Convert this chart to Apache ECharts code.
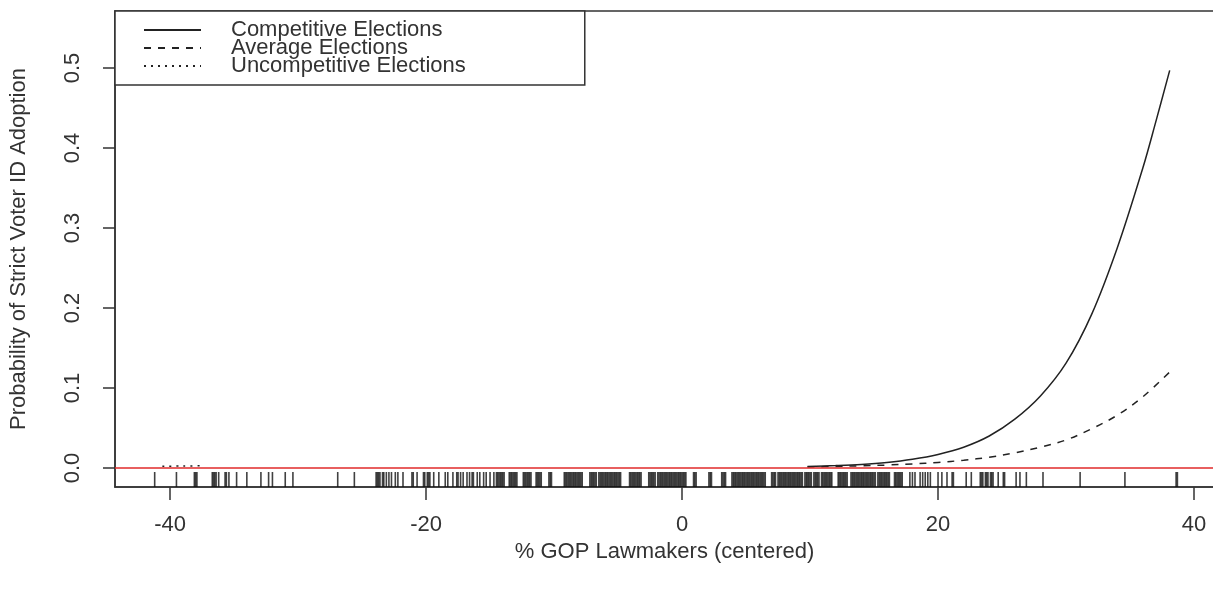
<!DOCTYPE html>
<html>
<head>
<meta charset="utf-8">
<script src="https://cdn.jsdelivr.net/npm/echarts@6/dist/echarts.min.js"></script>
<style>
html,body{margin:0;padding:0;background:#fff;}
#chart{width:1213px;height:591px;}
</style>
</head>
<body>
<div id="chart"></div>
<script>
// ---- data ----
const seriesNames = ['Competitive Elections', 'Average Elections', 'Uncompetitive Elections'];

const xCompetitive = [9.8, 12, 14, 16, 18, 20, 22, 24, 26, 28, 30, 32, 34, 36, 37, 38.1];
const yCompetitive = [0.0018, 0.003, 0.0045, 0.007, 0.011, 0.017, 0.026, 0.040, 0.061, 0.090, 0.131, 0.192, 0.275, 0.375, 0.432, 0.497];

const xAverage = [9.8, 12, 14, 16, 18, 20, 22, 24, 26, 28, 30, 32, 34, 36, 38.1];
const yAverage = [0.0014, 0.002, 0.0027, 0.0037, 0.005, 0.007, 0.0097, 0.0135, 0.019, 0.026, 0.035, 0.049, 0.066, 0.089, 0.12];

const xUncompetitive = [-40.6, -39, -37.4];
const yUncompetitive = [0.0022, 0.0025, 0.0028];

// rug (observed % GOP lawmakers, centered)
const rugX = [
  -41.2, -39.5, -38.1, -38.0, -37.9, -36.7, -36.6, -36.5, -36.4, -36.2, -35.7, -35.6, -35.4,
  -34.8, -34.0, -32.9, -32.3, -32.0, -31.0, -30.4, -26.9, -25.6,
  -23.9, -23.8, -23.7, -23.6, -23.4, -23.3, -23.1, -22.9, -22.7, -22.4, -22.2, -21.8, -21.1, -21.0,
  -20.7, -20.2, -20.1, -19.9, -19.8, -19.7, -19.4, -19.0, -18.5, -18.3, -17.9, -17.6, -17.5,
  -17.3, -17.1, -16.8, -16.6, -16.4, -16.3, -16.0, -15.8, -15.5, -15.3, -15.0, -14.7, -14.5,
  -14.4, -14.3, -14.2, -14.1, -14.0, -13.9,
  -13.5, -13.4, -13.3, -13.2, -13.1, -13.0, -12.9,
  -12.4, -12.3, -12.2, -12.1, -12.0, -11.9, -11.8,
  -11.4, -11.3, -11.2, -11.1, -11.0,
  -10.4, -10.3, -10.2,
  -9.2, -9.1, -9.0, -8.9, -8.8, -8.7, -8.6, -8.5, -8.4, -8.3, -8.2, -8.1, -8.0, -7.9, -7.8,
  -7.2, -7.1, -7.0, -6.9, -6.8, -6.7,
  -6.5, -6.4, -6.3, -6.2, -6.1, -6.0, -5.9, -5.8, -5.7, -5.6, -5.5, -5.4, -5.3, -5.2, -5.1,
  -5.0, -4.9, -4.8,
  -4.1, -4.0, -3.9, -3.8, -3.7, -3.6, -3.5, -3.4, -3.3, -3.2,
  -2.6, -2.5, -2.4, -2.3, -2.2, -2.1,
  -1.9, -1.8, -1.7, -1.6, -1.5, -1.4, -1.3, -1.2, -1.1, -1.0, -0.9, -0.8, -0.7, -0.6, -0.5,
  -0.4, -0.3, -0.2, -0.1, 0.0, 0.1, 0.2, 0.3,
  0.9, 1.0, 1.1,
  2.1, 2.2, 2.3,
  3.1, 3.2, 3.3, 3.4,
  3.9, 4.0, 4.1, 4.2, 4.3, 4.4, 4.5, 4.6, 4.7, 4.8, 4.9, 5.0, 5.1, 5.2, 5.3, 5.4, 5.5, 5.6,
  5.7, 5.8, 5.9, 6.0, 6.1, 6.2, 6.3, 6.4, 6.5,
  7.0, 7.1, 7.2, 7.3,
  7.5, 7.6, 7.7, 7.8, 7.9, 8.0, 8.1, 8.2, 8.3, 8.4, 8.5, 8.6, 8.7, 8.8, 8.9, 9.0, 9.1, 9.2,
  9.3, 9.4,
  9.6, 9.7, 9.8, 9.9, 10.0, 10.1,
  10.3, 10.4, 10.5, 10.6, 10.7,
  10.9, 11.0, 11.1, 11.2, 11.3, 11.4, 11.5, 11.6, 11.7,
  12.2, 12.3, 12.4, 12.5, 12.6, 12.7, 12.8, 12.9,
  13.2, 13.3, 13.4, 13.5, 13.6, 13.7, 13.8, 13.9, 14.0, 14.1, 14.2, 14.3, 14.4, 14.5, 14.6,
  14.7, 14.8, 14.9, 15.0, 15.1,
  15.3, 15.4, 15.5, 15.6, 15.7, 15.8, 15.9, 16.0, 16.1, 16.2,
  16.6, 16.7, 16.8, 16.9, 17.0, 17.1, 17.2,
  17.8, 18.0, 18.2, 18.6, 18.8, 19.0, 19.2, 19.4, 20.0, 20.3, 20.7, 21.1, 21.2, 22.2, 22.6,
  23.3, 23.4, 23.5, 23.7, 23.8, 23.9, 24.1, 24.2, 24.3, 24.7, 25.1, 25.2, 26.1, 26.4,
  26.9, 28.2, 31.1, 34.6, 38.6, 38.7
];
const rugLevel = -0.0144;

const xTicks = [-40, -20, 0, 20, 40];
const yTicks = [0, 0.1, 0.2, 0.3, 0.4, 0.5];

const xTitle = '% GOP Lawmakers (centered)';
const yTitle = 'Probability of Strict Voter ID Adoption';

// ---- chart ----
const FONT = '"Liberation Sans", Arial, sans-serif';
const TXT = '#333';
const LINE = '#333';

function pairs(xs, ys) { return xs.map((x, i) => [x, ys[i]]); }

const chart = echarts.init(document.getElementById('chart'), null, {renderer: 'canvas'});
chart.setOption({
  animation: false,
  backgroundColor: '#fff',
  textStyle: {fontFamily: FONT},
  grid: {
    left: 115, top: 11, right: -1, bottom: 104,
    show: true, borderColor: LINE, borderWidth: 1.5,
    containLabel: false, outerBoundsMode: 'none'
  },
  legend: {
    orient: 'vertical',
    left: 115, top: 11,
    padding: [8, 119, 8, 28],
    itemGap: -4,
    itemWidth: 57, itemHeight: 14,
    borderColor: LINE, borderWidth: 1.5,
    backgroundColor: '#fff',
    selectedMode: false,
    itemStyle: {opacity: 0},
    data: seriesNames,
    textStyle: {fontFamily: FONT, fontSize: 22, color: TXT, padding: [0, 0, 0, 25]}
  },
  xAxis: {
    type: 'value',
    min: -44.3, max: 41.56,
    name: xTitle, nameLocation: 'middle', nameGap: 52,
    nameTextStyle: {fontFamily: FONT, fontSize: 22, color: TXT},
    axisLine: {show: true, onZero: false, lineStyle: {color: LINE, width: 1.5}},
    axisTick: {show: true, customValues: xTicks, length: 13, lineStyle: {color: LINE, width: 1.5}},
    axisLabel: {show: true, customValues: xTicks, margin: 27, fontSize: 22, color: TXT, fontFamily: FONT},
    splitLine: {show: false}
  },
  yAxis: {
    type: 'value',
    min: -0.02375, max: 0.57125,
    name: yTitle, nameLocation: 'middle', nameGap: 85,
    nameTextStyle: {fontFamily: FONT, fontSize: 22, color: TXT},
    axisLine: {show: true, onZero: false, lineStyle: {color: LINE, width: 1.5}},
    axisTick: {show: true, customValues: yTicks, length: 12, lineStyle: {color: LINE, width: 1.5}},
    axisLabel: {show: true, customValues: yTicks, rotate: 90, margin: 31, fontSize: 22, color: TXT, fontFamily: FONT,
      formatter: v => v.toFixed(1)},
    splitLine: {show: false}
  },
  series: [
    {
      name: 'rug', type: 'scatter', silent: true, z: 1,
      symbol: 'rect', symbolSize: [1.6, 15],
      itemStyle: {color: '#111', opacity: 0.8},
      data: rugX.map(x => [x, rugLevel])
    },
    {
      name: seriesNames[0], type: 'line', smooth: 0.35, symbol: 'none', silent: true, z: 3,
      color: '#222',
      lineStyle: {color: '#222', width: 1.5, type: 'solid'},
      data: pairs(xCompetitive, yCompetitive),
      markLine: {
        silent: true, symbol: 'none', label: {show: false},
        lineStyle: {color: '#e02a2a', width: 1.5, type: 'solid'},
        data: [{yAxis: 0}]
      }
    },
    {
      name: seriesNames[1], type: 'line', smooth: 0.35, symbol: 'none', silent: true, z: 3,
      color: '#222',
      lineStyle: {color: '#222', width: 1.5, type: [7, 7]},
      data: pairs(xAverage, yAverage)
    },
    {
      name: seriesNames[2], type: 'line', smooth: 0.35, symbol: 'none', silent: true, z: 3,
      color: '#222',
      lineStyle: {color: '#222', width: 1.5, type: [2, 5]},
      data: pairs(xUncompetitive, yUncompetitive)
    }
  ]
});
</script>
</body>
</html>
